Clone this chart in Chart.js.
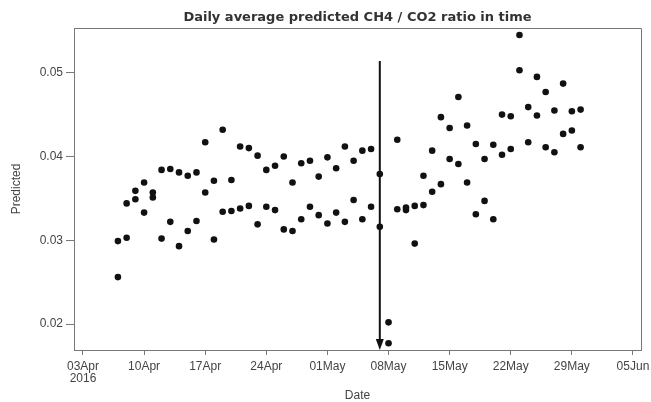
<!DOCTYPE html>
<html>
<head>
<meta charset="utf-8">
<script src="https://cdn.jsdelivr.net/npm/chart.js"></script>
<style>
  body { margin: 0; background: #fff; }
  canvas { display: block; }
</style>
</head>
<body>
<canvas id="ratioChart" width="651" height="402"></canvas>
<script>
const dates = [
  "2016-04-07", "2016-04-08", "2016-04-09", "2016-04-10", "2016-04-11", "2016-04-12",
  "2016-04-13", "2016-04-14", "2016-04-15", "2016-04-16", "2016-04-17", "2016-04-18",
  "2016-04-19", "2016-04-20", "2016-04-21", "2016-04-22", "2016-04-23", "2016-04-24",
  "2016-04-25", "2016-04-26", "2016-04-27", "2016-04-28", "2016-04-29", "2016-04-30",
  "2016-05-01", "2016-05-02", "2016-05-03", "2016-05-04", "2016-05-05", "2016-05-06",
  "2016-05-07", "2016-05-08", "2016-05-09", "2016-05-10", "2016-05-11", "2016-05-12",
  "2016-05-13", "2016-05-14", "2016-05-15", "2016-05-16", "2016-05-17", "2016-05-18",
  "2016-05-19", "2016-05-20", "2016-05-21", "2016-05-22", "2016-05-23", "2016-05-24",
  "2016-05-25", "2016-05-26", "2016-05-27", "2016-05-28", "2016-05-29", "2016-05-30",
];
const predictedA = [
  0.0299, 0.0303, 0.0349, 0.0369, 0.0357, 0.0384,
  0.0385, 0.0381, 0.0377, 0.0381, 0.0417, 0.0371,
  0.0432, 0.0372, 0.0412, 0.0410, 0.0401, 0.0384,
  0.0389, 0.0400, 0.0369, 0.0392, 0.0395, 0.0376,
  0.0399, 0.0386, 0.0412, 0.0395, 0.0407, 0.0409,
  0.0379, 0.0202, 0.0420, 0.0339, 0.0341, 0.0377,
  0.0407, 0.0447, 0.0434, 0.0471, 0.0437, 0.0415,
  0.0397, 0.0414, 0.0450, 0.0448, 0.0545, 0.0459,
  0.0495, 0.0477, 0.0455, 0.0487, 0.0454, 0.0456,
];
const predictedB = [
  0.0256, 0.0344, 0.0359, 0.0333, 0.0351, 0.0302,
  0.0322, 0.0293, 0.0311, 0.0323, 0.0357, 0.0301,
  0.0334, 0.0335, 0.0338, 0.0341, 0.0319, 0.0340,
  0.0336, 0.0313, 0.0311, 0.0325, 0.0340, 0.0330,
  0.0320, 0.0333, 0.0322, 0.0348, 0.0325, 0.0340,
  0.0316, 0.0177, 0.0337, 0.0336, 0.0296, 0.0342,
  0.0358, 0.0367, 0.0397, 0.0391, 0.0369, 0.0331,
  0.0347, 0.0325, 0.0402, 0.0409, 0.0503, 0.0417,
  0.0449, 0.0411, 0.0405, 0.0427, 0.0431, 0.0411,
];
const tickDates = [
  "2016-04-03", "2016-04-10", "2016-04-17", "2016-04-24", "2016-05-01",
  "2016-05-08", "2016-05-15", "2016-05-22", "2016-05-29", "2016-06-05",
];
const tickLabels = [
  ["03Apr", "2016"], "10Apr", "17Apr", "24Apr", "01May",
  "08May", "15May", "22May", "29May", "05Jun",
];
const yTicks = [0.02, 0.03, 0.04, 0.05];
const yTickLabels = ["0.02", "0.03", "0.04", "0.05"];
const eventDate = "2016-05-07";
const eventTop = 0.0514;
const titleText = "Daily average predicted CH4 / CO2 ratio in time";

const DAY = 86400000;
const origin = Date.parse(tickDates[0]);
const toDay = (d) => (Date.parse(d) - origin) / DAY;

const pointsA = dates.map((d, i) => ({ x: toDay(d), y: predictedA[i] }));
const pointsB = dates.map((d, i) => ({ x: toDay(d), y: predictedB[i] }));
const tickDays = tickDates.map(toDay);

const font = "'Liberation Sans', Arial, sans-serif";
const axisGray = "#777";

// title centred on the plot, box round the plot, arrow at the event date
const frame = {
  id: "frame",
  beforeDatasetsDraw(chart) {
    const { ctx, chartArea: a } = chart;
    ctx.save();
    ctx.strokeStyle = axisGray;
    ctx.lineWidth = 1;
    ctx.beginPath();
    ctx.moveTo(Math.round(a.left) + 0.5, Math.round(a.top) + 0.5);
    ctx.lineTo(Math.round(a.right) + 0.5, Math.round(a.top) + 0.5);
    ctx.lineTo(Math.round(a.right) + 0.5, Math.round(a.bottom) + 0.5);
    ctx.stroke();

    ctx.fillStyle = "#333";
    ctx.font = "bold 13px 'DejaVu Sans', Verdana, sans-serif";
    ctx.textAlign = "center";
    ctx.textBaseline = "alphabetic";
    ctx.fillText(titleText, (a.left + a.right) / 2, 20.5);
    ctx.restore();
  },
  afterDatasetsDraw(chart) {
    const { ctx, chartArea: a, scales } = chart;
    const x = scales.x.getPixelForValue(toDay(eventDate));
    const top = scales.y.getPixelForValue(eventTop);
    const bottom = a.bottom;
    const head = 11;
    ctx.save();
    ctx.strokeStyle = "#111";
    ctx.fillStyle = "#111";
    ctx.lineWidth = 2;
    ctx.beginPath();
    ctx.moveTo(x, top);
    ctx.lineTo(x, bottom - head + 1);
    ctx.stroke();
    ctx.beginPath();
    ctx.moveTo(x - 4, bottom - head);
    ctx.lineTo(x + 4, bottom - head);
    ctx.lineTo(x, bottom);
    ctx.closePath();
    ctx.fill();
    ctx.restore();
  },
};

const pointStyle = {
  backgroundColor: "#111",
  borderColor: "#111",
  borderWidth: 0,
  pointRadius: 3.3,
  pointHoverRadius: 3.3,
};

new Chart(document.getElementById("ratioChart"), {
  type: "scatter",
  data: {
    datasets: [
      { label: "Predicted", data: pointsA, ...pointStyle },
      { label: "Predicted", data: pointsB, ...pointStyle },
    ],
  },
  options: {
    responsive: false,
    animation: false,
    devicePixelRatio: 1,
    layout: { padding: { left: 0, right: 10, top: 28, bottom: 0 } },
    plugins: {
      legend: { display: false },
      tooltip: { enabled: false },
      title: { display: false },
    },
    scales: {
      x: {
        type: "linear",
        min: -1.03,
        max: 63.92,
        afterBuildTicks: (s) => {
          s.ticks = tickDays.map((v) => ({ value: v }));
        },
        afterFit: (s) => {
          s.height = 52;
          s.paddingLeft = 0;
          s.paddingRight = 0;
        },
        ticks: {
          autoSkip: false,
          maxRotation: 0,
          padding: 5,
          color: "#444",
          font: { family: font, size: 12, lineHeight: 1.05 },
          callback: (v) => tickLabels[tickDays.indexOf(v)],
        },
        grid: { drawOnChartArea: false, tickLength: 5, color: axisGray },
        border: { color: axisGray },
        title: {
          display: true,
          text: "Date",
          color: "#444",
          font: { family: font, size: 12, lineHeight: 1 },
          padding: { top: 0, bottom: 0 },
        },
      },
      y: {
        min: 0.0169,
        max: 0.05534,
        afterBuildTicks: (s) => {
          s.ticks = yTicks.map((v) => ({ value: v }));
        },
        afterFit: (s) => {
          s.width = 74;
          s.paddingTop = 0;
          s.paddingBottom = 0;
        },
        ticks: {
          padding: 3,
          color: "#444",
          font: { family: font, size: 12 },
          callback: (v) => yTickLabels[yTicks.indexOf(v)],
        },
        grid: { drawOnChartArea: false, tickLength: 8, color: axisGray },
        border: { color: axisGray },
        title: {
          display: true,
          text: "Predicted",
          color: "#444",
          font: { family: font, size: 12 },
          padding: { top: 9, bottom: 0 },
        },
      },
    },
  },
  plugins: [frame],
});
</script>
</body>
</html>
